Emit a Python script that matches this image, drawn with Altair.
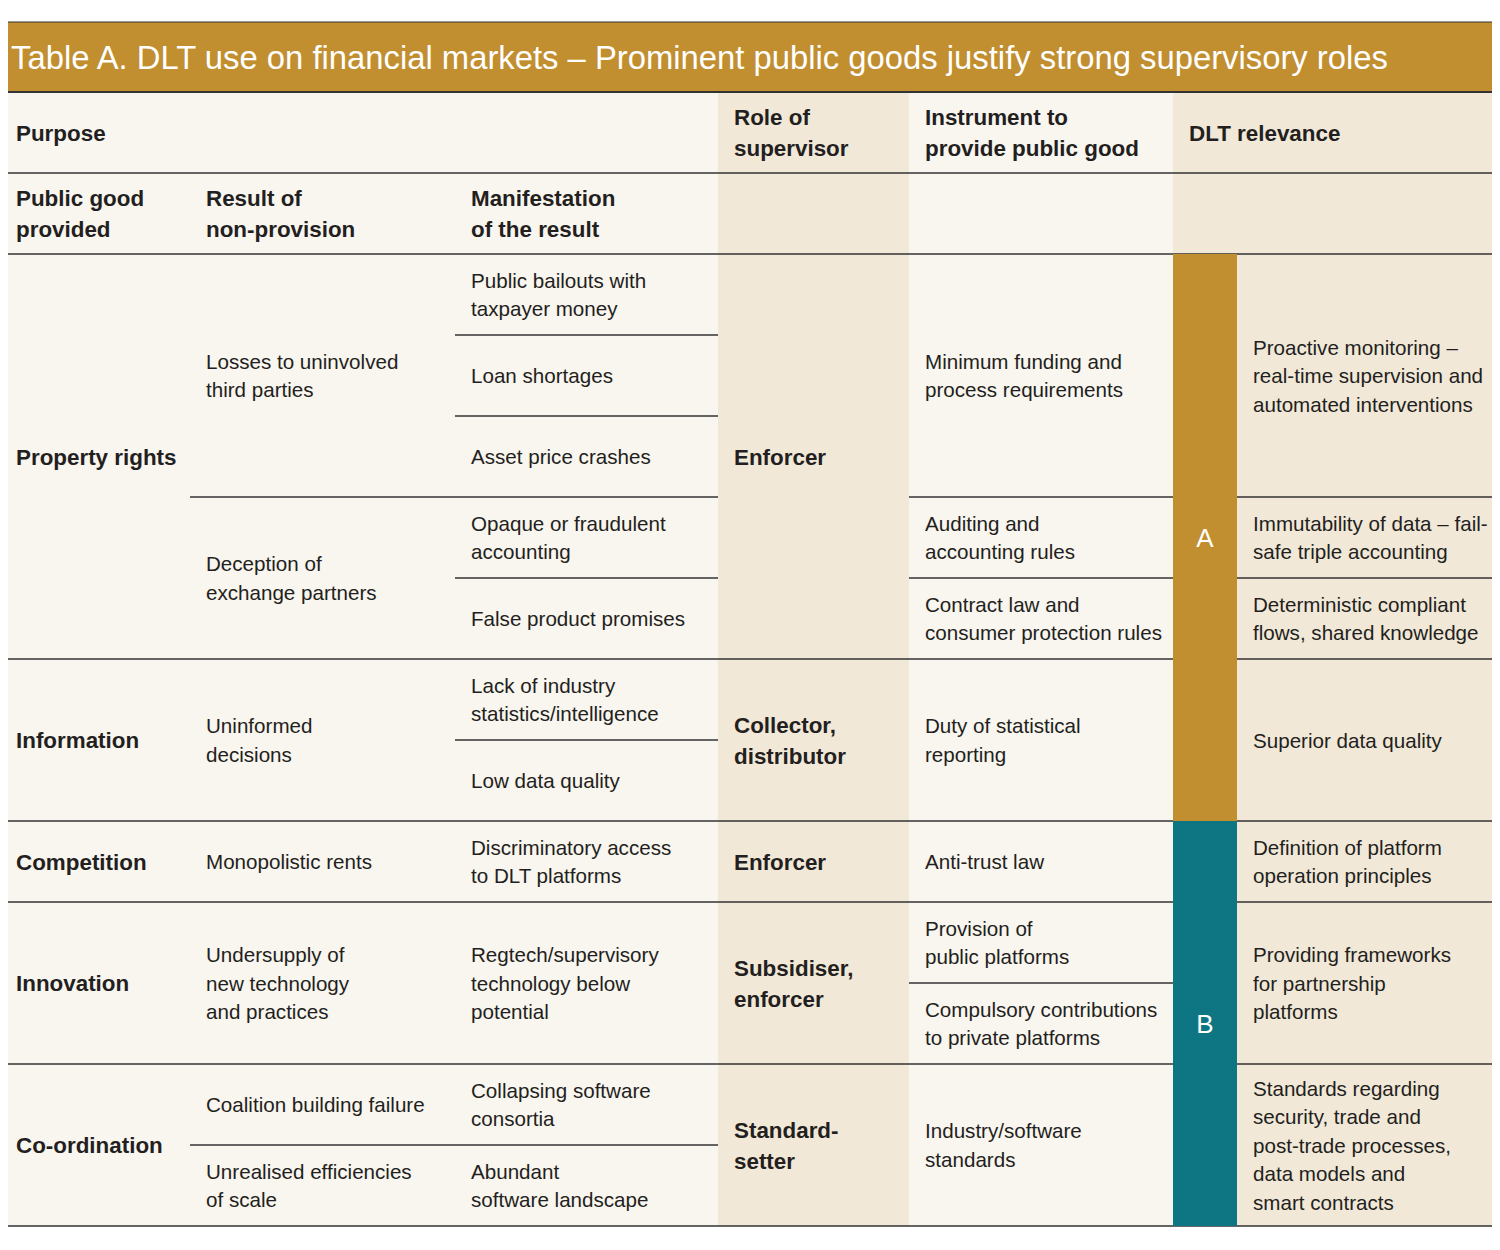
import altair as alt
import pandas as pd

TITLE = "Table A. DLT use on financial markets – Prominent public goods justify strong supervisory roles"

# table grid (column and row boundaries of the reference table)
COL_EDGES = [0, 190, 455, 718, 909, 1173, 1237, 1500]
ROW_EDGES = [22, 92, 173, 254, 335, 416, 497, 578, 659, 740, 821, 902, 983, 1064, 1145, 1226]

# (col, first row, row after last, text)
HEADERS = [
    (0, 1, 2, "Purpose"),
    (3, 1, 2, "Role of\nsupervisor"),
    (4, 1, 2, "Instrument to\nprovide public good"),
    (5, 1, 2, "DLT relevance"),
    (0, 2, 3, "Public good\nprovided"),
    (1, 2, 3, "Result of\nnon-provision"),
    (2, 2, 3, "Manifestation\nof the result"),
]
PUBLIC_GOODS = [(3, 8, "Property rights"), (8, 10, "Information"), (10, 11, "Competition"),
                (11, 13, "Innovation"), (13, 15, "Co-ordination")]
RESULTS = [(3, 6, "Losses to uninvolved\nthird parties"), (6, 8, "Deception of\nexchange partners"),
           (8, 10, "Uninformed\ndecisions"), (10, 11, "Monopolistic rents"),
           (11, 13, "Undersupply of\nnew technology\nand practices"),
           (13, 14, "Coalition building failure"), (14, 15, "Unrealised efficiencies\nof scale")]
MANIFESTATIONS = [(3, 4, "Public bailouts with\ntaxpayer money"), (4, 5, "Loan shortages"),
                  (5, 6, "Asset price crashes"), (6, 7, "Opaque or fraudulent\naccounting"),
                  (7, 8, "False product promises"), (8, 9, "Lack of industry\nstatistics/intelligence"),
                  (9, 10, "Low data quality"), (10, 11, "Discriminatory access\nto DLT platforms"),
                  (11, 13, "Regtech/supervisory\ntechnology below\npotential"),
                  (13, 14, "Collapsing software\nconsortia"), (14, 15, "Abundant\nsoftware landscape")]
ROLES = [(3, 8, "Enforcer"), (8, 10, "Collector,\ndistributor"), (10, 11, "Enforcer"),
         (11, 13, "Subsidiser,\nenforcer"), (13, 15, "Standard-\nsetter")]
INSTRUMENTS = [(3, 6, "Minimum funding and\nprocess requirements"), (6, 7, "Auditing and\naccounting rules"),
               (7, 8, "Contract law and\nconsumer protection rules"), (8, 10, "Duty of statistical\nreporting"),
               (10, 11, "Anti-trust law"), (11, 12, "Provision of\npublic platforms"),
               (12, 13, "Compulsory contributions\nto private platforms"), (13, 15, "Industry/software\nstandards")]
GROUPS = [(3, 10, "A"), (10, 15, "B")]
RELEVANCE = [(3, 6, "Proactive monitoring –\nreal-time supervision and\nautomated interventions"),
             (6, 7, "Immutability of data – fail-\nsafe triple accounting"),
             (7, 8, "Deterministic compliant\nflows, shared knowledge"),
             (8, 10, "Superior data quality"),
             (10, 11, "Definition of platform\noperation principles"),
             (11, 13, "Providing frameworks\nfor partnership\nplatforms"),
             (13, 15, "Standards regarding\nsecurity, trade and\npost-trade processes,\ndata models and\nsmart contracts")]

# horizontal rules: (row edge, first col edge, last col edge)
RULES = [(0, 0, 7), (1, 0, 7), (2, 0, 7), (3, 0, 7), (4, 2, 3), (5, 2, 3),
         (6, 1, 3), (6, 4, 5), (6, 6, 7), (7, 2, 3), (7, 4, 5), (7, 6, 7),
         (8, 0, 7), (9, 2, 3), (10, 0, 7), (11, 0, 7), (12, 4, 5), (13, 0, 7),
         (14, 1, 3), (15, 0, 7)]

GOLD = "#C18E30"
TEAL = "#0E7682"
CREAM = "#F9F5EF"
BEIGE = "#F1E8D8"
INK = "#231F20"
GROUP_COLORS = {"A": GOLD, "B": TEAL}

PAD = 16
FONT = "Liberation Sans"
REG_SIZE, REG_LH = 20.6, 28.5
BOLD_SIZE, BOLD_LH = 22.4, 31

# ---------- build tables ----------
fills_df = pd.DataFrame([
    dict(x=COL_EDGES[0], x2=COL_EDGES[7], y=ROW_EDGES[1], y2=ROW_EDGES[15], color=CREAM),
    dict(x=COL_EDGES[3], x2=COL_EDGES[4], y=ROW_EDGES[1], y2=ROW_EDGES[15], color=BEIGE),
    dict(x=COL_EDGES[5], x2=COL_EDGES[7], y=ROW_EDGES[1], y2=ROW_EDGES[15], color=BEIGE),
    dict(x=COL_EDGES[0], x2=COL_EDGES[7], y=ROW_EDGES[0], y2=ROW_EDGES[1], color=GOLD),
])

bars_df = pd.DataFrame([
    dict(x=COL_EDGES[5], x2=COL_EDGES[6], y=ROW_EDGES[r0], y2=ROW_EDGES[r1], color=GROUP_COLORS[g])
    for r0, r1, g in GROUPS
])

rules_df = pd.DataFrame([
    dict(x=COL_EDGES[c0], x2=COL_EDGES[c1], y=ROW_EDGES[r],
         w=(1.0 if r == 0 else 2.0 if r == 1 else 1.5))
    for r, c0, c1 in RULES
])


def cell(col, r0, r1, text, lh):
    n = text.count("\n") + 1
    center = (ROW_EDGES[r0] + ROW_EDGES[r1]) / 2
    # first line position so that the whole block is centred in its cell
    return dict(x=COL_EDGES[col] + PAD, y=center - (n - 1) * lh / 2, text=text)


bold_rows = [cell(c, r0, r1, t, BOLD_LH) for c, r0, r1, t in HEADERS]
bold_rows += [cell(0, r0, r1, t, BOLD_LH) for r0, r1, t in PUBLIC_GOODS]
bold_rows += [cell(3, r0, r1, t, BOLD_LH) for r0, r1, t in ROLES]
bold_df = pd.DataFrame(bold_rows)

reg_rows = [cell(1, r0, r1, t, REG_LH) for r0, r1, t in RESULTS]
reg_rows += [cell(2, r0, r1, t, REG_LH) for r0, r1, t in MANIFESTATIONS]
reg_rows += [cell(4, r0, r1, t, REG_LH) for r0, r1, t in INSTRUMENTS]
reg_rows += [cell(6, r0, r1, t, REG_LH) for r0, r1, t in RELEVANCE]
reg_df = pd.DataFrame(reg_rows)

letters_df = pd.DataFrame([
    dict(x=(COL_EDGES[5] + COL_EDGES[6]) / 2, y=(ROW_EDGES[r0] + ROW_EDGES[r1]) / 2, text=g)
    for r0, r1, g in GROUPS
])
title_df = pd.DataFrame([dict(x=COL_EDGES[0] + 11, y=(ROW_EDGES[0] + ROW_EDGES[1]) / 2, text=TITLE)])

# ---------- scales: data units equal page pixels (page margin is 8px) ----------
W, H = 1484, 1234
XS = alt.Scale(domain=[8, 8 + W], nice=False, zero=False)
YS = alt.Scale(domain=[8, 8 + H], nice=False, zero=False, reverse=True)


def xenc():
    return alt.X("x:Q", scale=XS, axis=None)


def yenc():
    return alt.Y("y:Q", scale=YS, axis=None)


fill_layer = alt.Chart(fills_df).mark_rect(clip=True).encode(
    x=xenc(), x2="x2:Q", y=yenc(), y2="y2:Q", color=alt.Color("color:N", scale=None))

rule_layer = alt.Chart(rules_df).mark_rule(clip=True, color="#333333").encode(
    x=xenc(), x2="x2:Q", y=yenc(), strokeWidth=alt.StrokeWidth("w:Q", scale=None))

bar_layer = alt.Chart(bars_df).mark_rect(clip=True).encode(
    x=xenc(), x2="x2:Q", y=yenc(), y2="y2:Q", color=alt.Color("color:N", scale=None))

bold_layer = alt.Chart(bold_df).mark_text(
    align="left", baseline="middle", font=FONT, fontSize=BOLD_SIZE, fontWeight="bold",
    lineHeight=BOLD_LH, lineBreak="\n", color=INK, dy=1).encode(x=xenc(), y=yenc(), text="text:N")

reg_layer = alt.Chart(reg_df).mark_text(
    align="left", baseline="middle", font=FONT, fontSize=REG_SIZE,
    lineHeight=REG_LH, lineBreak="\n", color=INK, dy=1.5).encode(x=xenc(), y=yenc(), text="text:N")

letter_layer = alt.Chart(letters_df).mark_text(
    align="center", baseline="middle", font=FONT, fontSize=26, color="white", dy=1).encode(
    x=xenc(), y=yenc(), text="text:N")

title_layer = alt.Chart(title_df).mark_text(
    align="left", baseline="middle", font=FONT, fontSize=32.8, color="white", dy=2, clip=True).encode(
    x=xenc(), y=yenc(), text="text:N")

chart = alt.layer(
    fill_layer, rule_layer, bar_layer, bold_layer, reg_layer, letter_layer, title_layer
).properties(
    width=W, height=H, padding=0, background="white",
    autosize=alt.AutoSizeParams(type="none"),
).configure_view(stroke=None)

chart.save("out.html", embed_options={"renderer": "svg", "actions": False})
